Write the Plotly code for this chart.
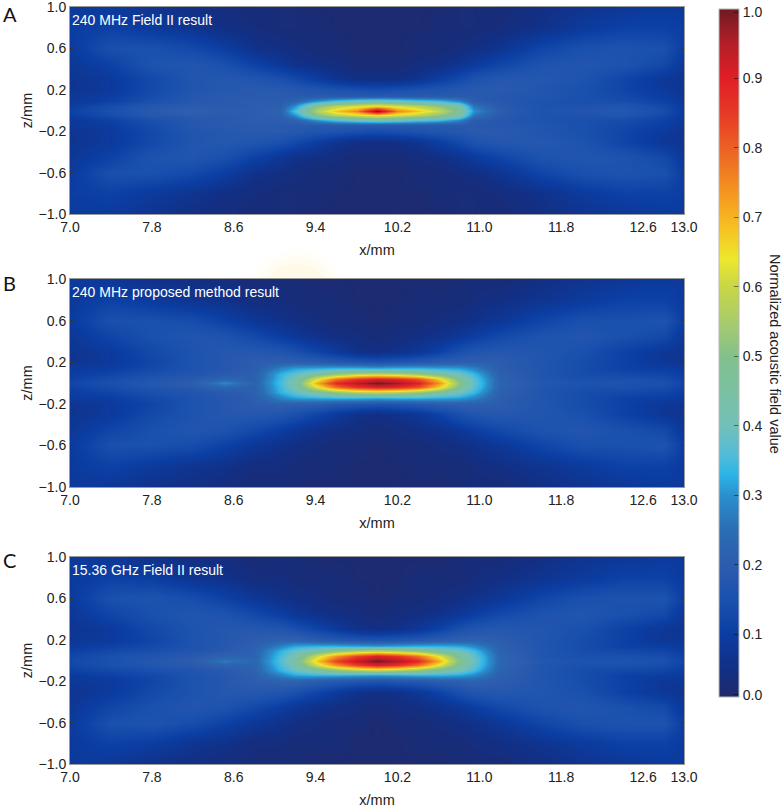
import plotly.graph_objects as go

W, H = 784, 808

x_mm = [7, 7.4, 7.8, 8.2, 8.5, 8.8, 9.05, 9.2, 9.4, 9.6, 9.8, 10, 10.2, 10.4, 10.6, 10.8, 10.95, 11.2, 11.6, 12, 12.4, 12.8, 13]
z_mm = [1, .8, .6, .45, .3, .2, .14, .09, .04, 0, -.04, -.09, -.14, -.2, -.3, -.45, -.6, -.8, -1]

field_a = [
 [.09,.09,.07,.05,.04,.03,.03,.03,.02,.02,.02,.02,.02,.02,.02,.03,.03,.03,.05,.07,.08,.09,.09],
 [.10,.11,.09,.07,.05,.04,.03,.03,.03,.02,.02,.02,.02,.02,.03,.03,.03,.04,.06,.09,.11,.11,.10],
 [.09,.15,.15,.13,.10,.06,.05,.04,.03,.03,.02,.02,.02,.03,.03,.04,.05,.07,.12,.15,.16,.15,.10],
 [.08,.11,.16,.17,.15,.11,.08,.06,.05,.04,.03,.03,.03,.04,.05,.07,.09,.12,.16,.17,.16,.13,.08],
 [.07,.09,.13,.17,.18,.17,.15,.13,.10,.07,.05,.05,.05,.07,.10,.13,.16,.18,.18,.16,.12,.08,.07],
 [.07,.09,.13,.17,.18,.19,.19,.18,.17,.16,.15,.14,.15,.16,.17,.18,.19,.19,.17,.15,.12,.09,.07],
 [.08,.10,.14,.18,.19,.19,.19,.19,.19,.19,.19,.19,.19,.19,.19,.19,.19,.18,.17,.15,.13,.10,.08],
 [.08,.11,.15,.18,.19,.20,.20,.22,.30,.36,.40,.42,.40,.37,.35,.29,.20,.18,.16,.15,.14,.11,.08],
 [.10,.14,.18,.20,.19,.20,.21,.30,.50,.58,.62,.66,.62,.58,.52,.45,.26,.19,.16,.16,.17,.13,.09],
 [.11,.15,.19,.21,.20,.20,.22,.36,.56,.68,.76,1.0,.76,.68,.60,.48,.30,.20,.16,.17,.18,.14,.09],
 [.10,.14,.18,.20,.19,.20,.21,.30,.50,.58,.62,.66,.62,.58,.52,.45,.26,.19,.16,.16,.17,.13,.09],
 [.08,.11,.15,.18,.19,.20,.20,.22,.30,.36,.40,.42,.40,.37,.35,.29,.20,.18,.16,.15,.14,.11,.08],
 [.08,.10,.14,.18,.19,.19,.19,.19,.19,.19,.19,.19,.19,.19,.19,.19,.19,.18,.17,.15,.13,.10,.08],
 [.07,.09,.13,.17,.18,.19,.19,.18,.17,.16,.15,.14,.15,.16,.17,.18,.19,.19,.17,.15,.12,.09,.07],
 [.07,.09,.13,.17,.18,.17,.15,.13,.10,.07,.05,.05,.05,.07,.10,.13,.16,.18,.18,.16,.12,.08,.07],
 [.08,.11,.16,.17,.15,.11,.08,.06,.05,.04,.03,.03,.03,.04,.05,.07,.09,.12,.16,.17,.16,.13,.08],
 [.09,.15,.15,.13,.10,.06,.05,.04,.03,.03,.02,.02,.02,.03,.03,.04,.05,.07,.12,.15,.16,.15,.10],
 [.10,.11,.09,.07,.05,.04,.03,.03,.03,.02,.02,.02,.02,.02,.03,.03,.03,.04,.06,.09,.11,.11,.10],
 [.09,.09,.07,.05,.04,.03,.03,.03,.02,.02,.02,.02,.02,.02,.02,.03,.03,.03,.05,.07,.08,.09,.09],
]

field_b = [
 [.09,.08,.06,.05,.04,.03,.03,.03,.02,.02,.02,.02,.02,.02,.02,.03,.03,.03,.05,.07,.08,.09,.09],
 [.09,.11,.09,.07,.06,.04,.04,.03,.03,.03,.02,.02,.02,.03,.03,.03,.04,.05,.07,.09,.11,.11,.09],
 [.09,.15,.15,.14,.11,.08,.06,.05,.04,.03,.03,.02,.03,.03,.04,.05,.06,.08,.12,.15,.15,.16,.10],
 [.08,.12,.15,.17,.16,.13,.10,.08,.06,.05,.04,.03,.04,.05,.06,.08,.10,.13,.16,.17,.15,.13,.08],
 [.07,.09,.13,.16,.18,.18,.17,.15,.12,.09,.06,.05,.06,.08,.11,.15,.17,.18,.17,.15,.11,.08,.07],
 [.07,.09,.12,.16,.18,.20,.21,.21,.20,.18,.17,.16,.17,.18,.20,.21,.21,.20,.17,.14,.11,.08,.07],
 [.09,.10,.13,.16,.18,.20,.28,.31,.32,.33,.33,.32,.33,.33,.32,.31,.28,.20,.17,.14,.11,.10,.09],
 [.10,.12,.15,.17,.19,.21,.33,.38,.46,.53,.58,.60,.58,.54,.47,.40,.34,.21,.17,.14,.13,.12,.10],
 [.11,.14,.17,.19,.23,.21,.34,.42,.62,.78,.86,.90,.88,.82,.68,.48,.37,.22,.17,.15,.15,.14,.11],
 [.12,.15,.18,.20,.29,.22,.35,.44,.70,.88,.95,1.0,.97,.90,.75,.52,.38,.22,.18,.16,.16,.15,.12],
 [.11,.14,.17,.19,.23,.21,.34,.42,.62,.78,.86,.90,.88,.82,.68,.48,.37,.22,.17,.15,.15,.14,.11],
 [.10,.12,.15,.17,.19,.21,.33,.38,.46,.53,.58,.60,.58,.54,.47,.40,.34,.21,.17,.14,.13,.12,.10],
 [.09,.10,.13,.16,.18,.20,.28,.31,.32,.33,.33,.32,.33,.33,.32,.31,.28,.20,.17,.14,.11,.10,.09],
 [.07,.09,.12,.16,.18,.20,.21,.21,.20,.18,.17,.16,.17,.18,.20,.21,.21,.20,.17,.14,.11,.08,.07],
 [.07,.09,.13,.16,.18,.18,.17,.15,.12,.09,.06,.05,.06,.08,.11,.15,.17,.18,.17,.15,.11,.08,.07],
 [.08,.12,.15,.17,.16,.13,.10,.08,.06,.05,.04,.03,.04,.05,.06,.08,.10,.13,.16,.17,.15,.13,.08],
 [.09,.15,.15,.14,.11,.08,.06,.05,.04,.03,.03,.02,.03,.03,.04,.05,.06,.08,.12,.15,.15,.16,.10],
 [.09,.11,.09,.07,.06,.04,.04,.03,.03,.03,.02,.02,.02,.03,.03,.03,.04,.05,.07,.09,.11,.11,.09],
 [.09,.08,.06,.05,.04,.03,.03,.03,.02,.02,.02,.02,.02,.02,.02,.03,.03,.03,.05,.07,.08,.09,.09],
]

field_c = [
 [.09,.08,.06,.05,.04,.03,.03,.03,.02,.02,.02,.02,.02,.02,.02,.03,.03,.03,.05,.07,.08,.09,.09],
 [.09,.11,.10,.07,.06,.04,.04,.03,.03,.03,.02,.02,.02,.03,.03,.03,.04,.05,.07,.09,.11,.11,.09],
 [.09,.15,.16,.14,.11,.08,.06,.05,.04,.03,.03,.02,.03,.03,.04,.05,.06,.08,.12,.15,.16,.16,.10],
 [.08,.12,.15,.17,.16,.13,.10,.08,.06,.05,.04,.03,.04,.05,.06,.08,.10,.13,.16,.17,.15,.13,.08],
 [.07,.09,.13,.16,.18,.18,.17,.15,.12,.09,.06,.05,.06,.08,.11,.15,.17,.18,.17,.15,.11,.08,.07],
 [.08,.09,.12,.16,.18,.20,.22,.22,.20,.18,.17,.16,.17,.18,.20,.21,.22,.20,.17,.14,.11,.08,.08],
 [.09,.11,.13,.16,.18,.21,.28,.32,.33,.33,.32,.31,.32,.33,.33,.32,.29,.21,.17,.14,.11,.10,.09],
 [.11,.13,.15,.17,.19,.22,.33,.39,.45,.52,.57,.60,.57,.53,.46,.41,.35,.22,.17,.14,.13,.12,.10],
 [.12,.15,.17,.19,.22,.22,.35,.42,.60,.74,.84,.90,.86,.78,.64,.47,.38,.23,.17,.15,.15,.14,.11],
 [.13,.15,.18,.20,.27,.23,.36,.45,.67,.84,.94,1.0,.96,.88,.72,.50,.39,.23,.18,.16,.16,.15,.12],
 [.12,.15,.17,.19,.22,.22,.35,.42,.60,.74,.84,.90,.86,.78,.64,.47,.38,.23,.17,.15,.15,.14,.11],
 [.11,.13,.15,.17,.19,.22,.33,.39,.45,.52,.57,.60,.57,.53,.46,.41,.35,.22,.17,.14,.13,.12,.10],
 [.09,.11,.13,.16,.18,.21,.28,.32,.33,.33,.32,.31,.32,.33,.33,.32,.29,.21,.17,.14,.11,.10,.09],
 [.08,.09,.12,.16,.18,.20,.22,.22,.20,.18,.17,.16,.17,.18,.20,.21,.22,.20,.17,.14,.11,.08,.08],
 [.07,.09,.13,.16,.18,.18,.17,.15,.12,.09,.06,.05,.06,.08,.11,.15,.17,.18,.17,.15,.11,.08,.07],
 [.08,.12,.15,.17,.16,.13,.10,.08,.06,.05,.04,.03,.04,.05,.06,.08,.10,.13,.16,.17,.15,.13,.08],
 [.09,.15,.16,.14,.11,.08,.06,.05,.04,.03,.03,.02,.03,.03,.04,.05,.06,.08,.12,.15,.16,.16,.10],
 [.09,.11,.10,.07,.06,.04,.04,.03,.03,.03,.02,.02,.02,.03,.03,.03,.04,.05,.07,.09,.11,.11,.09],
 [.09,.08,.06,.05,.04,.03,.03,.03,.02,.02,.02,.02,.02,.02,.02,.03,.03,.03,.05,.07,.08,.09,.09],
]

panel_fields = [field_a, field_b, field_c]
panel_letters = ["A", "B", "C"]
panel_notes = ["240 MHz Field II result", "240 MHz proposed method result", "15.36 GHz Field II result"]

x_ticks = [7.0, 7.8, 8.6, 9.4, 10.2, 11.0, 11.8, 12.6, 13.0]
z_ticks = [1.0, 0.6, 0.2, -0.2, -0.6, -1.0]
cbar_labels = ["0.0", "0.1", "0.2", "0.3", "0.4", "0.5", "0.6", "0.7", "0.8", "0.9", "1.0"]
cbar_tick_vals = [.013, .1, .2, .3, .4, .5, .6, .7, .8, .9, .995]

cmap_vals = [.01, .05, .1, .15, .2, .25, .3, .33, .36, .4, .5, .55, .6, .64, .68, .72, .8, .85, .9, .95, 1.0]
cmap_colors = ["#1f2a6c", "#122f84", "#0b3da2", "#1a50ae", "#2c5cae", "#2a6db4", "#2a8fcf", "#2cb4e6", "#54bcd8",
               "#72c0b8", "#82c08c", "#a8cc6c", "#c8d646", "#ece82e", "#f5c524", "#f6a31f", "#ec6025", "#e63a25",
               "#e01e26", "#b41f28", "#6f1a22"]

FONT = "Liberation Sans, Arial, sans-serif"
TXT = "#222222"
zmin, zmax = 0.01, 1.0
colorscale = [[(v - zmin) / (zmax - zmin), c] for v, c in zip(cmap_vals, cmap_colors)]

plot_left, plot_right = 70, 684
panel_px = [(7, 214), (279, 487), (557, 764)]
letter_y = [14, 283, 560]

fig = go.Figure()
annotations = []
layout_axes = {}
for i, (field, (top, bottom)) in enumerate(zip(panel_fields, panel_px)):
    s = "" if i == 0 else str(i + 1)
    fig.add_trace(go.Heatmap(x=x_mm, y=z_mm, z=field, coloraxis="coloraxis", zsmooth="best",
                             xaxis="x" + s, yaxis="y" + s, hovertemplate="%{x}, %{y}: %{z}<extra></extra>"))
    layout_axes["xaxis" + s] = dict(
        domain=[plot_left / W, plot_right / W], range=[7, 13], anchor="y" + s, automargin=False,
        tickmode="array", tickvals=x_ticks, tickformat=".1f", ticks="inside", ticklen=3, tickwidth=1,
        tickcolor="#333333", mirror="allticks", showline=True, linecolor="#9a9a9a", linewidth=1, showgrid=False,
        zeroline=False, ticklabeloverflow="allow", tickfont=dict(family=FONT, size=14, color=TXT),
        title=dict(text="x/mm", standoff=11, font=dict(family=FONT, size=14.5, color=TXT)))
    layout_axes["yaxis" + s] = dict(
        domain=[1 - bottom / H, 1 - top / H], range=[-1, 1], anchor="x" + s, automargin=False,
        tickmode="array", tickvals=z_ticks, tickformat=".1f", ticks="inside", ticklen=3, tickwidth=1,
        tickcolor="#333333", mirror="allticks", showline=True, linecolor="#9a9a9a", linewidth=1, showgrid=False,
        zeroline=False, ticklabeloverflow="allow", tickfont=dict(family=FONT, size=14, color=TXT),
        title=dict(text="z/mm", standoff=2, font=dict(family=FONT, size=14.5, color=TXT)))
    annotations.append(dict(text=panel_letters[i], x=1 / W, y=1 - letter_y[i] / H, xref="paper", yref="paper",
                            xanchor="left", yanchor="middle", showarrow=False,
                            font=dict(family="Lato, sans-serif", size=20, color="#111111")))
    annotations.append(dict(text=panel_notes[i], x=70 / W, y=1 - (top + 13) / H, xref="paper", yref="paper",
                            xanchor="left", yanchor="middle", showarrow=False,
                            font=dict(family=FONT, size=14, color="#ffffff")))

annotations.append(dict(text="Normalized acoustic field value", x=775 / W, y=1 - 354 / H, xref="paper", yref="paper",
                        xanchor="center", yanchor="middle", textangle=90, showarrow=False,
                        font=dict(family=FONT, size=14.5, color=TXT)))

fig.update_layout(
    width=W, height=H, margin=dict(l=0, r=0, t=0, b=0, autoexpand=False), paper_bgcolor="#ffffff", plot_bgcolor="#ffffff",
    showlegend=False, annotations=annotations,
    coloraxis=dict(cmin=zmin, cmax=zmax, colorscale=colorscale, colorbar=dict(
        x=719 / W, xanchor="left", y=1 - 9 / H, yanchor="top", len=688 / H, lenmode="fraction",
        thickness=20, thicknessmode="pixels", xpad=0, ypad=0,
        tickmode="array", tickvals=cbar_tick_vals, ticktext=cbar_labels, ticks="inside", ticklen=5,
        tickcolor="rgba(0,0,0,0.45)", outlinecolor="#b8b8b8", outlinewidth=1,
        tickfont=dict(family=FONT, size=14, color=TXT))),
    shapes=[dict(type="circle", xref="paper", yref="paper", layer="below", line_width=0, fillcolor=c,
                 x0=(297 - r) / W, x1=(297 + r) / W, y0=1 - (300 + r) / H, y1=1 - (300 - r) / H)
            for r, c in [(50, "#fffef9"), (44, "#fffcf2"), (36, "#fff9e8")]],
    **layout_axes)

fig.write_html("out.html", config={"displayModeBar": False}, post_script="document.body.style.margin='0';")
